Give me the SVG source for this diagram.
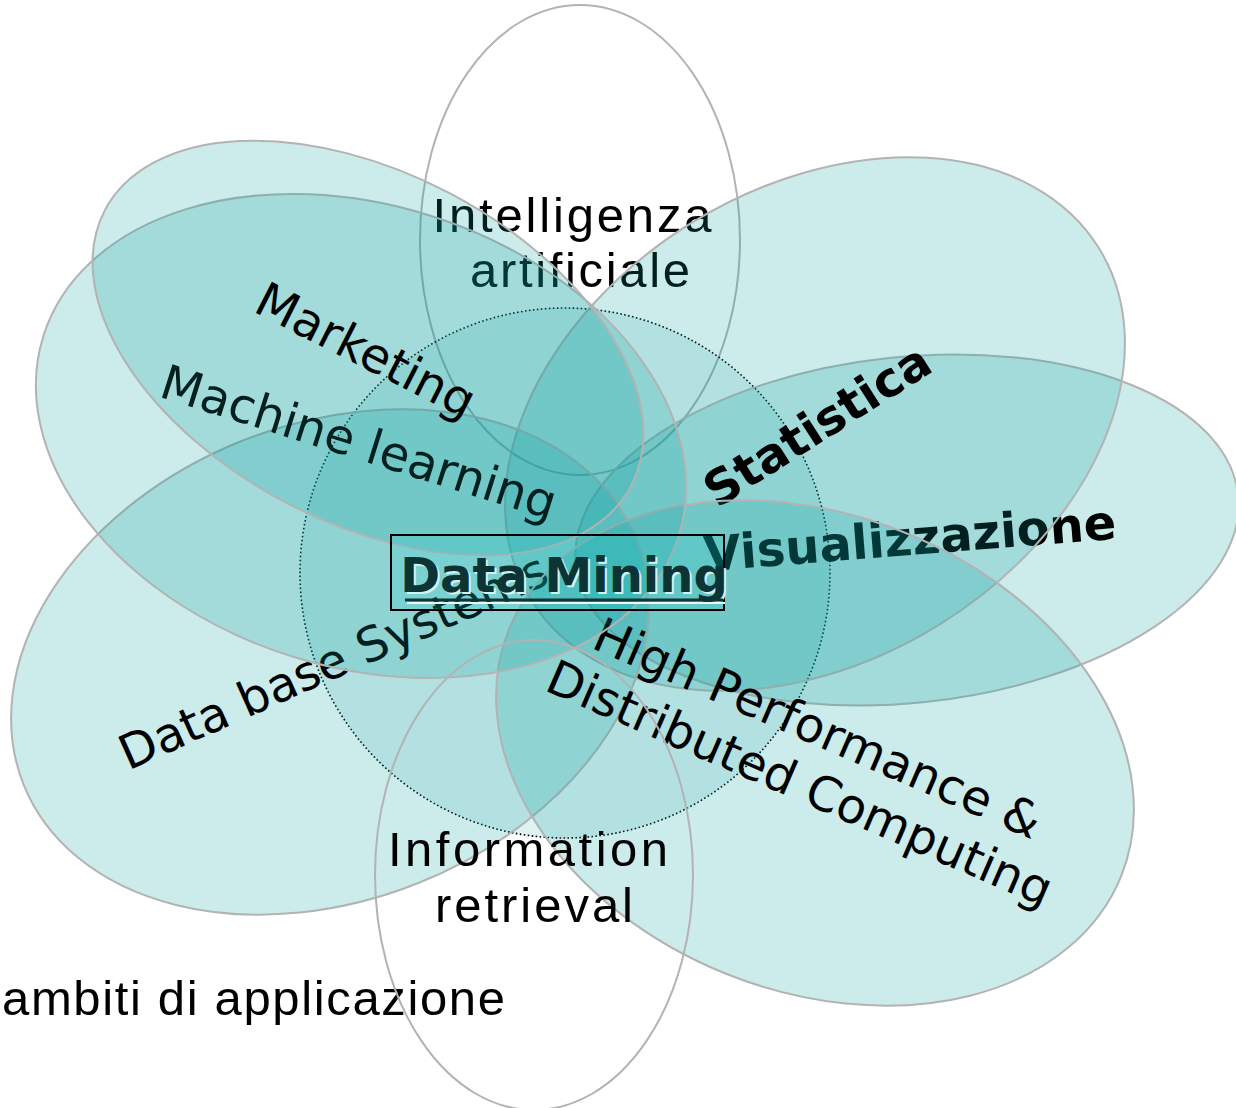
<svg xmlns="http://www.w3.org/2000/svg" width="1236" height="1108" viewBox="0 0 1236 1108">
<style>
.e{fill:#009999;fill-opacity:0.2;stroke:#b3b3b3;stroke-width:2}
.o{fill:none;stroke:#b3b3b3;stroke-width:2}
.t{font-family:"DejaVu Sans",Verdana,sans-serif;font-size:48px;fill:#000}
.b{font-weight:bold}
.n{font-family:"Liberation Sans",Arial,sans-serif;font-size:49px;fill:#000}
</style>
<rect width="1236" height="1108" fill="#fff"/>
<g id="intelligenza-artificiale">
<ellipse class="o" cx="580" cy="240" rx="160" ry="235"/>
<text class="n" x="572" y="232" text-anchor="middle" textLength="279" lengthAdjust="spacing">Intelligenza</text>
<text class="n" x="580" y="287" text-anchor="middle" textLength="220" lengthAdjust="spacing">artificiale</text>
</g>
<g id="data-mining-area">
<circle cx="565" cy="573" r="265" fill="#009999" fill-opacity="0.12" stroke="#000" stroke-width="1.6" stroke-dasharray="1.6 2.4"/>
</g>
<g id="visualizzazione">
<ellipse class="e" cx="907" cy="530" rx="333" ry="173" transform="rotate(-6 907 530)"/>
<text class="t b" text-anchor="middle" transform="translate(910,539) rotate(-4.5)" y="16" font-size="45">Visualizzazione</text>
</g>
<g id="statistica">
<ellipse class="e" cx="815" cy="424" rx="334" ry="236" transform="rotate(-31.8 815 424)"/>
<text class="t b" text-anchor="middle" transform="translate(817,425) rotate(-32.5)" y="17">Statistica</text>
</g>
<g id="data-base-systems">
<ellipse class="e" cx="330" cy="662" rx="330" ry="238" transform="rotate(-21.8 330 662)"/>
<text class="t" text-anchor="middle" transform="translate(333,661) rotate(-24)" y="17">Data base Systems</text>
</g>
<g id="high-performance">
<ellipse class="e" cx="815" cy="753" rx="330" ry="238" transform="rotate(21.8 815 753)"/>
<text class="t" text-anchor="middle" transform="translate(818,728) rotate(23.5)" y="17">High Performance &amp;</text>
<text class="t" text-anchor="middle" transform="translate(800,783) rotate(23.5)" y="17">Distributed Computing</text>
</g>
<g id="machine-learning">
<ellipse class="e" cx="361" cy="436" rx="333" ry="231" transform="rotate(17.5 361 436)"/>
<text class="t" text-anchor="middle" transform="translate(359,442) rotate(17.5)" y="17">Machine learning</text>
</g>
<g id="marketing">
<ellipse class="e" cx="368" cy="348" rx="297" ry="175" transform="rotate(27.6 368 348)"/>
<text class="t" text-anchor="middle" transform="translate(366,350) rotate(27)" y="17">Marketing</text>
</g>
<g id="information-retrieval">
<text class="n" x="505" y="1015" text-anchor="end" textLength="503" lengthAdjust="spacing">ambiti di applicazione</text>
<ellipse class="o" cx="534" cy="875" rx="159" ry="235"/>
<text class="n" x="528" y="866" text-anchor="middle" textLength="280" lengthAdjust="spacing">Information</text>
<text class="n" x="534" y="922" text-anchor="middle" textLength="198" lengthAdjust="spacing">retrieval</text>
</g>
<g id="data-mining">
<rect x="391" y="535" width="333" height="75" fill="#00cccc" fill-opacity="0.15" stroke="#000" stroke-width="2"/>
<text class="t b" x="566" y="594" text-anchor="middle" font-size="46" style="fill:#d4f2f2">Data Mining</text>
<text class="t b" x="564" y="592" text-anchor="middle" font-size="46" style="fill:#0d3434">Data Mining</text>
<line x1="407" y1="603" x2="725" y2="603" stroke="#e6f8f8" stroke-width="2"/>
<line x1="405" y1="600" x2="723" y2="600" stroke="#0d3434" stroke-width="3"/>
</g>
<g id="connectors"/>
</svg>
